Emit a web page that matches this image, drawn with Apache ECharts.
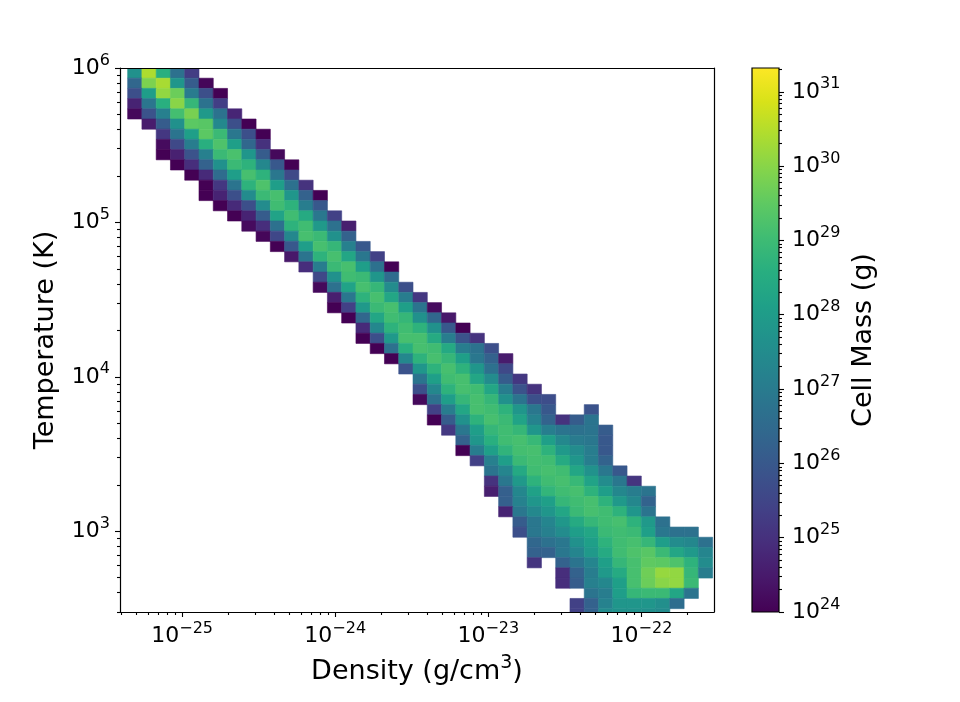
<!DOCTYPE html>
<html><head><meta charset="utf-8">
<script src="https://cdn.jsdelivr.net/npm/echarts@6/dist/echarts.min.js"></script>
<style>html,body{margin:0;padding:0;background:#fff}#c{width:960px;height:702px}</style>
</head><body><div id="c"></div>
<script>
// ---- data (log10 units) ----
const densityFirstBinLog = -25.356;   // left edge of first density bin, log10(g/cm^3)
const densityBinLog = 0.0932;         // bin width, decades
const tempTopBinLog = 6.0;            // top edge of first temperature bin, log10(K)
const tempBinLog = 0.06606;           // bin height, decades
const densityRangeLog = [-25.406, -21.526];
const tempRangeLog = [Math.log10(300), 6];
const massRangeLog = [24, 31.32];
const densityTickExps = [-25, -24, -23, -22];
const tempTickExps = [3, 4, 5, 6];
const massTickExps = [24, 25, 26, 27, 28, 29, 30, 31];

// first density bin index of each temperature row (row 0 = hottest)
const rowStartBin = [0,0,0,0,0,1,2,2,2,3,4,5,5,6,7,8,9,10,11,12,13,13,14,14,15,16,16,17,18,19,20,20,20,21,21,22,23,23,24,25,25,25,26,26,27,27,28,28,28,30,30,32,31,31];
// log10 of cell mass (g) for consecutive density bins in each row
const rowMassLog = [
  [27.65,30.4,28.6,26.7,25.3],
  [26.4,29.85,30.35,27.8,26.1,24.1],
  [25.75,28.05,30.1,29.65,27.0,25.75,24.0],
  [24.7,26.85,28.6,30.0,28.85,26.75,25.35],
  [24.15,25.85,27.15,29.1,29.8,27.9,26.75,24.75],
  [24.55,26.1,27.65,29.45,29.4,27.4,25.75,24.0],
  [25.15,26.8,28.1,29.45,28.95,26.9,25.75,24.0],
  [24.2,25.6,27.05,28.6,29.25,28.1,26.4,25.0],
  [24.0,24.65,25.85,27.15,28.95,29.2,27.8,26.1,24.15],
  [24.0,24.95,26.25,27.65,28.95,28.7,27.35,26.0,24.0],
  [24.0,24.85,26.55,28.05,29.15,28.7,26.9,25.6],
  [24.0,25.15,26.8,28.7,29.25,28.05,26.7,25.05],
  [24.0,24.7,25.75,27.5,28.95,29.15,27.8,26.25,24.0],
  [24.0,24.85,25.75,27.5,29.05,28.7,27.05,26.0],
  [24.0,24.7,26.1,28.2,29.05,28.45,26.9,25.4],
  [24.2,24.95,26.7,28.7,29.05,27.9,26.7,24.6],
  [24.1,25.55,27.35,29.15,28.95,27.65,26.25],
  [24.0,26.0,28.05,29.15,28.85,27.15,26.0],
  [24.45,26.8,28.7,29.15,28.3,26.9,25.4],
  [24.95,27.05,28.95,29.15,28.05,26.7,24.0],
  [25.6,27.65,29.05,28.95,27.8,26.55],
  [24.15,26.7,28.2,29.15,28.85,27.5,25.75],
  [24.6,26.9,28.7,29.15,28.3,27.05,25.15],
  [24.0,25.4,27.9,28.95,29.15,28.1,26.8,24.2],
  [24.0,26.4,28.3,29.05,28.85,27.65,26.4,24.45],
  [24.85,27.35,28.7,29.05,28.7,27.65,26.0,24.0],
  [24.0,25.75,27.9,29.15,29.15,28.45,27.05,25.85,25.05],
  [24.0,26.7,28.6,29.15,29.05,28.4,27.05,26.75,25.75],
  [24.0,27.35,28.7,29.15,28.85,28.1,26.9,26.25,24.55],
  [25.85,27.8,28.7,29.15,28.7,27.8,26.7,25.6],
  [26.8,28.1,29.05,29.15,28.3,27.5,26.1,25.15],
  [25.75,27.35,28.7,29.15,29.05,28.3,27.05,25.85,25.05],
  [24.15,26.7,28.05,28.85,29.15,28.85,27.65,26.8,25.75,25.7],
  [25.4,27.05,28.3,29.15,29.05,28.7,27.8,26.9,26.0,null,null,25.85],
  [24.0,26.1,27.65,28.7,29.15,28.95,28.2,27.2,26.3,25.05,26.1,26.8],
  [25.2,26.9,28.05,28.85,29.05,28.85,27.8,27.1,26.8,26.7,26.8,26.1],
  [26.25,27.8,28.6,29.05,29.15,28.9,28.1,27.4,27.0,26.9,26.0],
  [24.0,27.05,28.1,28.75,29.1,29.15,28.7,27.9,27.5,27.05,26.0],
  [25.4,27.15,28.05,28.95,29.1,29.05,28.45,27.8,27.1,26.3],
  [26.8,27.3,28.4,29.05,29.15,29.05,28.3,27.7,26.9,26.0],
  [25.05,26.9,27.9,28.7,29.05,29.15,28.9,28.2,27.5,26.9,25.1],
  [24.6,26.2,27.35,28.15,28.8,29.05,29.15,28.7,28.05,27.35,27.05,26.8],
  [26.2,27.2,27.8,28.1,28.85,29.05,29.15,28.7,27.9,27.35,26.3],
  [24.7,26.9,27.4,27.8,28.3,28.95,29.15,29.05,28.7,27.8,26.8],
  [26.1,26.9,27.3,27.85,28.45,28.85,29.05,29.15,28.7,27.9,26.7],
  [25.75,26.9,27.15,27.5,28.05,28.3,28.95,29.05,28.95,28.1,26.9,26.7,26.7],
  [26.4,26.7,26.9,27.65,28.1,28.7,29.05,29.15,28.85,28.05,27.5,27.35,26.7],
  [26.25,26.25,26.9,27.3,27.9,28.45,29.05,29.25,29.4,28.95,28.3,27.9,27.3],
  [25.1,null,26.25,26.8,27.3,28.1,28.85,29.15,29.5,29.45,29.25,28.7,27.5],
  [24.95,26.25,27.05,27.9,28.45,29.15,29.7,30.15,30.1,28.85,27.05],
  [24.95,26.1,27.15,27.35,28.1,29.15,29.65,30.0,30.1,28.95],
  [26.8,27.05,28.05,28.85,28.95,28.95,28.3,26.8],
  [25.4,26.25,27.2,27.8,27.8,27.8,27.6,26.6],
  [25.4,26.25,27.5,27.7,27.7,27.6,27.5]
];

const viridis = ['#440154','#48186a','#472d7b','#424086','#3b528b','#33638d','#2c728e','#26828e',
  '#21918c','#1fa088','#28ae80','#3fbc73','#5ec962','#84d44b','#addc30','#d8e219','#fde725'];

// ---- build cells ----
const cells = [];
rowMassLog.forEach((row, r) => {
  row.forEach((v, j) => {
    if (v === null) return;
    const xc = densityFirstBinLog + (rowStartBin[r] + j + 0.5) * densityBinLog;
    const yc = tempTopBinLog - (r + 0.5) * tempBinLog;
    cells.push([xc, yc, v]);
  });
});

function minorTicks(lo, hi) {
  const out = [];
  for (let n = Math.floor(lo) - 1; n <= Math.ceil(hi); n++) {
    for (let k = 2; k <= 9; k++) {
      const v = n + Math.log10(k);
      if (v >= lo - 1e-9 && v <= hi + 1e-9) out.push(v);
    }
  }
  return out;
}

const FONT = 'DejaVu Sans';
const expStr = v => { const n = Math.round(v); return n < 0 ? '\u2212' + (-n) : String(n); };
const labelRich = {
  b: { fontFamily: FONT, fontSize: 22, color: '#000' },
  s: { fontFamily: FONT, fontSize: 16, color: '#000', padding: [0, 0, 15, 0] }
};
const expFormatter = v => '{b|10}{s|' + expStr(v) + '}';
const blackLine = { color: '#000', width: 1.2 };
const tickLine = { color: '#000', width: 1.1 };
const NAME_SIZE = 27;

const chart = echarts.init(document.getElementById('c'), null, { renderer: 'canvas' });

function renderCell(params, api) {
  const x = api.value(0), y = api.value(1);
  const p0 = api.coord([x - densityBinLog / 2, y + tempBinLog / 2]);
  const p1 = api.coord([x + densityBinLog / 2, y - tempBinLog / 2]);
  const color = api.visual('color');
  return {
    type: 'rect',
    shape: { x: p0[0], y: p0[1], width: p1[0] - p0[0], height: p1[1] - p0[1] },
    style: { fill: color, stroke: color, lineWidth: 0.6 }
  };
}

function renderColorbar(params, api) {
  const p0 = api.coord([0, massRangeLog[1]]);
  const p1 = api.coord([1, massRangeLog[0]]);
  const stops = viridis.map((c, i) => ({ offset: i / (viridis.length - 1), color: c }));
  return {
    type: 'rect',
    shape: { x: p0[0], y: p0[1], width: p1[0] - p0[0], height: p1[1] - p0[1] },
    style: {
      fill: new echarts.graphic.LinearGradient(0, 1, 0, 0, stops),
      stroke: '#000', lineWidth: 1.2
    }
  };
}

const option = {
  backgroundColor: '#fff',
  animation: false,
  grid: [
    { left: 120, top: 68, width: 594, height: 544, containLabel: false },
    { left: 752, top: 68, width: 27, height: 544, containLabel: false }
  ],
  visualMap: {
    show: false, type: 'continuous', seriesIndex: 0, dimension: 2,
    min: massRangeLog[0], max: massRangeLog[1],
    inRange: { color: viridis }
  },
  xAxis: [
    {
      gridIndex: 0, type: 'value', min: densityRangeLog[0], max: densityRangeLog[1], z: 10,
      position: 'bottom',
      axisLine: { show: true, onZero: false, lineStyle: blackLine },
      axisTick: { show: true, customValues: densityTickExps, length: 5, lineStyle: tickLine },
      axisLabel: { customValues: densityTickExps, formatter: expFormatter, margin: 9, rich: labelRich },
      splitLine: { show: false },
      name: '{a|Density (g/cm}{s|3}{a|)}', nameLocation: 'middle', nameGap: 42,
      nameTextStyle: { rich: {
        a: { fontFamily: FONT, fontSize: NAME_SIZE, color: '#000' },
        s: { fontFamily: FONT, fontSize: 19, color: '#000', padding: [0, 0, 17, 0] }
      } }
    },
    {
      gridIndex: 0, type: 'value', min: densityRangeLog[0], max: densityRangeLog[1], z: 10,
      position: 'bottom',
      axisLine: { show: false, onZero: false },
      axisTick: { show: true, customValues: minorTicks(densityRangeLog[0], densityRangeLog[1]), length: 3, lineStyle: tickLine },
      axisLabel: { show: false }, splitLine: { show: false }
    },
    {
      gridIndex: 0, type: 'value', min: densityRangeLog[0], max: densityRangeLog[1], z: 10,
      position: 'top',
      axisLine: { show: true, onZero: false, lineStyle: blackLine },
      axisTick: { show: false }, axisLabel: { show: false }, splitLine: { show: false }
    },
    { gridIndex: 1, type: 'value', min: 0, max: 1, show: false }
  ],
  yAxis: [
    {
      gridIndex: 0, type: 'value', min: tempRangeLog[0], max: tempRangeLog[1], z: 10,
      position: 'left',
      axisLine: { show: true, onZero: false, lineStyle: blackLine },
      axisTick: { show: true, customValues: tempTickExps, length: 5, lineStyle: tickLine },
      axisLabel: { customValues: tempTickExps, formatter: expFormatter, margin: 10, rich: labelRich },
      splitLine: { show: false },
      name: 'Temperature (K)', nameLocation: 'middle', nameRotate: 90, nameGap: 61,
      nameTextStyle: { fontFamily: FONT, fontSize: NAME_SIZE, color: '#000' }
    },
    {
      gridIndex: 0, type: 'value', min: tempRangeLog[0], max: tempRangeLog[1], z: 10,
      position: 'left',
      axisLine: { show: false, onZero: false },
      axisTick: { show: true, customValues: minorTicks(tempRangeLog[0], tempRangeLog[1]), length: 3, lineStyle: tickLine },
      axisLabel: { show: false }, splitLine: { show: false }
    },
    {
      gridIndex: 0, type: 'value', min: tempRangeLog[0], max: tempRangeLog[1], z: 10,
      position: 'right',
      axisLine: { show: true, onZero: false, lineStyle: blackLine },
      axisTick: { show: false }, axisLabel: { show: false }, splitLine: { show: false }
    },
    {
      gridIndex: 1, type: 'value', min: massRangeLog[0], max: massRangeLog[1], z: 10,
      position: 'right',
      axisLine: { show: false, onZero: false },
      axisTick: { show: true, customValues: massTickExps, length: 5, lineStyle: tickLine },
      axisLabel: { customValues: massTickExps, formatter: expFormatter, margin: 13, rich: labelRich },
      splitLine: { show: false },
      name: 'Cell Mass (g)', nameLocation: 'middle', nameRotate: 90, nameGap: 71,
      nameTextStyle: { fontFamily: FONT, fontSize: NAME_SIZE, color: '#000' }
    },
    {
      gridIndex: 1, type: 'value', min: massRangeLog[0], max: massRangeLog[1], z: 10,
      position: 'right',
      axisLine: { show: false, onZero: false },
      axisTick: { show: true, customValues: minorTicks(massRangeLog[0], massRangeLog[1]), length: 3, lineStyle: tickLine },
      axisLabel: { show: false }, splitLine: { show: false }
    }
  ],
  series: [
    {
      type: 'custom', name: 'Cell Mass', xAxisIndex: 0, yAxisIndex: 0,
      renderItem: renderCell, clip: true, data: cells,
      encode: { x: 0, y: 1 }, z: 2, silent: true
    },
    {
      type: 'custom', name: 'Colorbar', xAxisIndex: 3, yAxisIndex: 3,
      renderItem: renderColorbar, data: [[0, massRangeLog[0]]], z: 2, silent: true
    }
  ]
};
chart.setOption(option);
</script>
</body></html>
